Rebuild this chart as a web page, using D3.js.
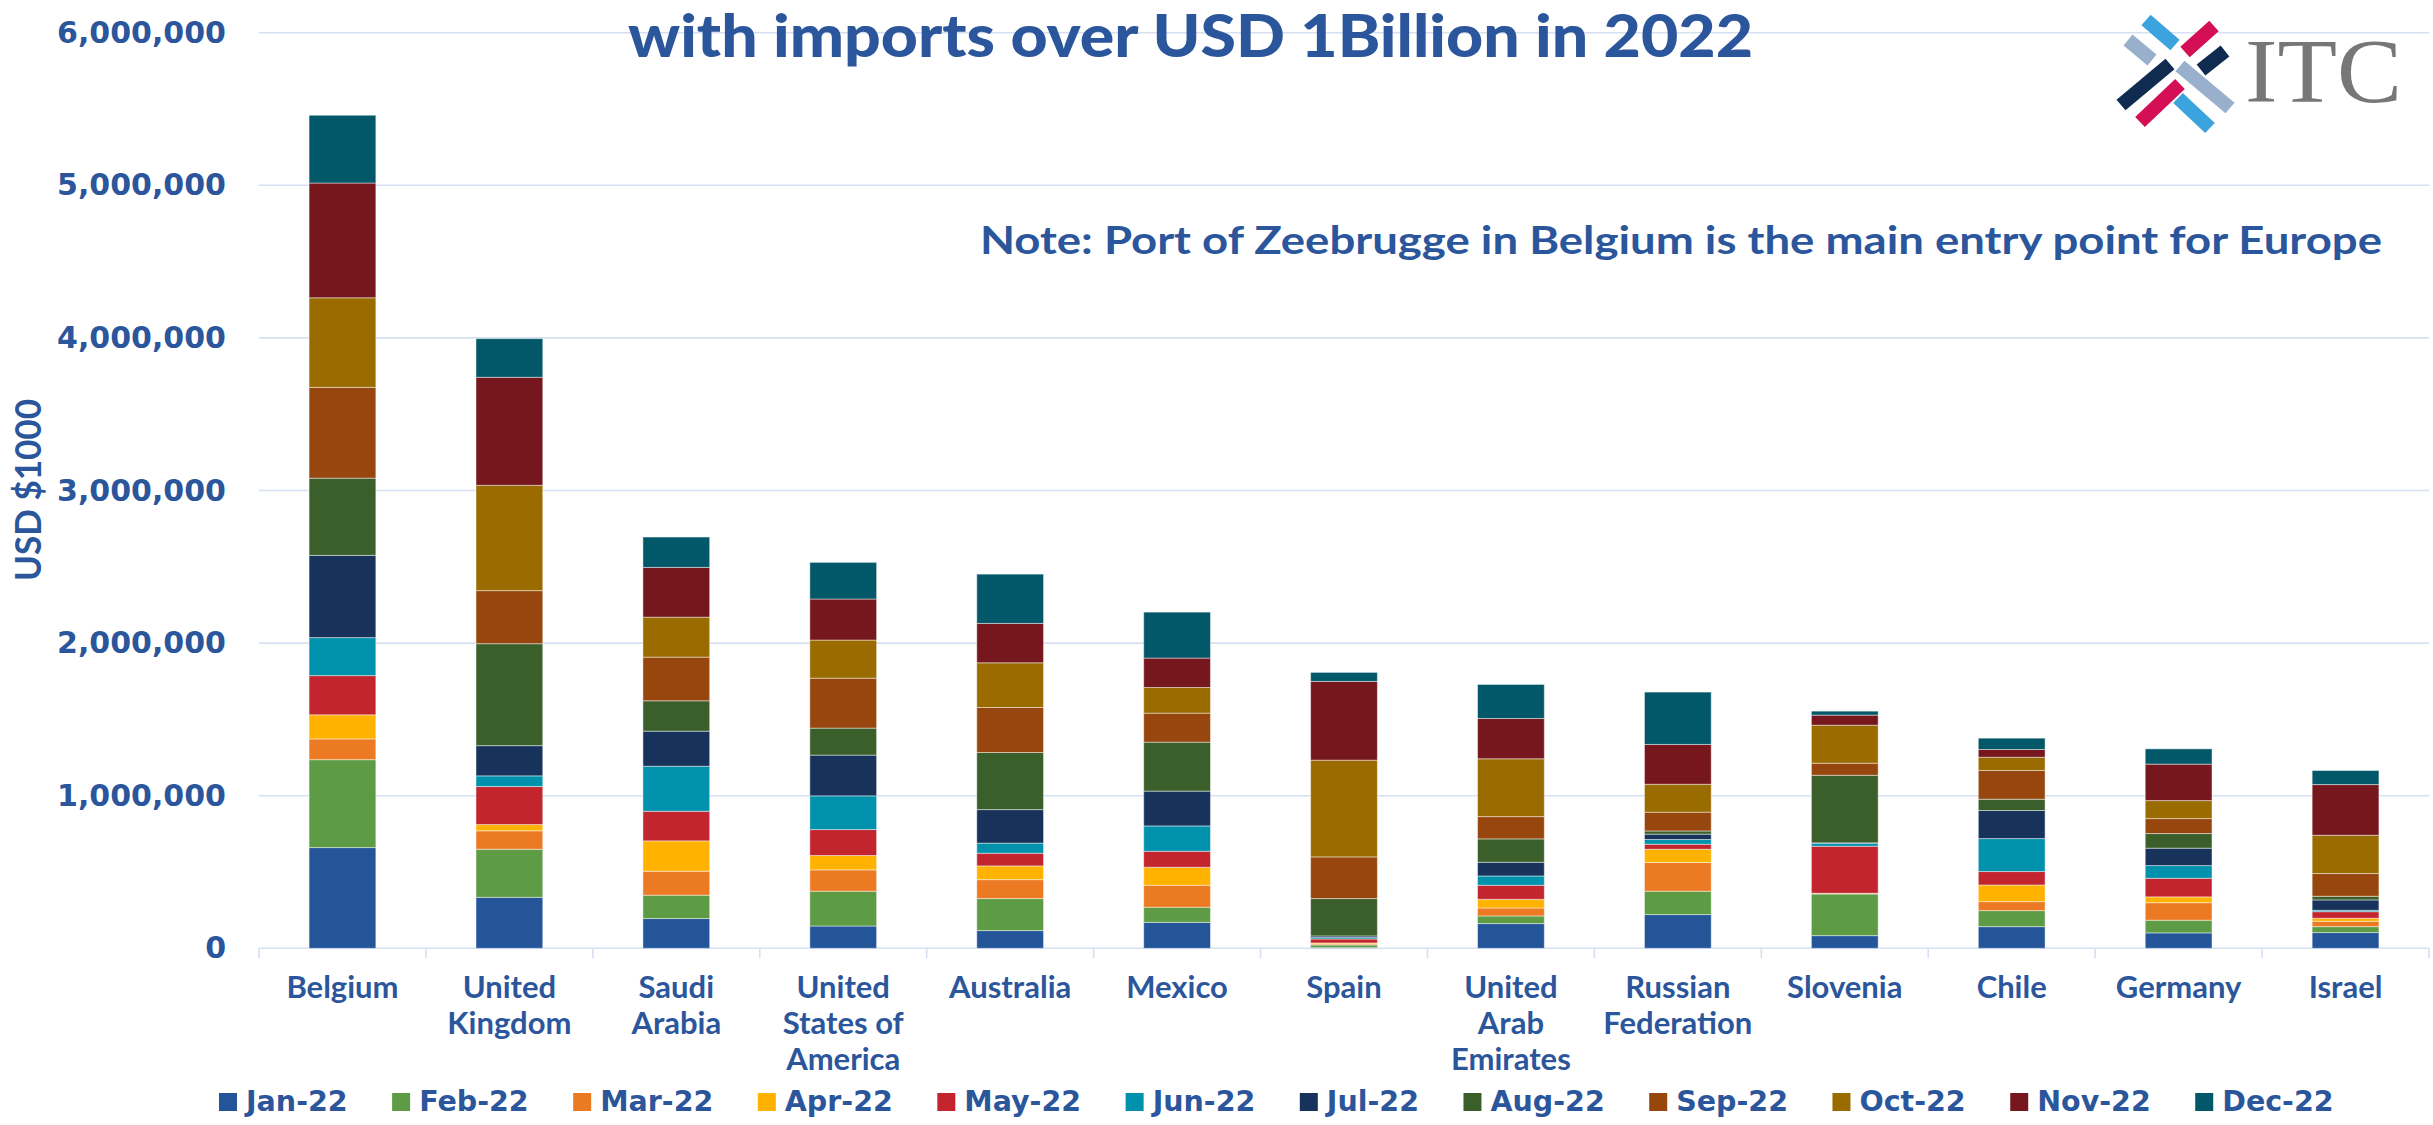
<!DOCTYPE html>
<html>
<head>
<meta charset="utf-8">
<script src="https://cdn.jsdelivr.net/npm/d3@7"></script>
<style>
  html, body { margin: 0; padding: 0; background: #ffffff; }
  svg { display: block; }
</style>
</head>
<body>
<svg id="chart" width="2433" height="1125"></svg>
<script>
// ---------- DATA (USD thousand) ----------
const categories = ["Belgium", "United Kingdom", "Saudi Arabia", "United States of America",
  "Australia", "Mexico", "Spain", "United Arab Emirates", "Russian Federation",
  "Slovenia", "Chile", "Germany", "Israel"];
const months = ["Jan-22", "Feb-22", "Mar-22", "Apr-22", "May-22", "Jun-22",
  "Jul-22", "Aug-22", "Sep-22", "Oct-22", "Nov-22", "Dec-22"];

const jan22 = [660000, 334000, 195000, 146000, 116000, 170000, 4000, 162000, 221000, 83000, 142000, 101000, 103000];
const feb22 = [576000, 315000, 153000, 228000, 210000, 99000, 18000, 50000, 153000, 273000, 105000, 83000, 39000];
const mar22 = [136000, 121000, 157000, 140000, 124000, 144000, 7000, 52000, 188000, 2000, 59000, 115000, 35000];
const apr22 = [158000, 41000, 199000, 94000, 90000, 118000, 6000, 57000, 87000, 3000, 109000, 38000, 20000];
const may22 = [257000, 249000, 194000, 170000, 83000, 105000, 26000, 92000, 33000, 308000, 88000, 122000, 43000];
const jun22 = [249000, 70000, 295000, 221000, 66000, 166000, 9000, 61000, 31000, 20000, 216000, 83000, 9000];
const jul22 = [539000, 198000, 230000, 267000, 220000, 228000, 11000, 90000, 35000, 2000, 184000, 114000, 68000];
const aug22 = [506000, 668000, 199000, 177000, 374000, 321000, 245000, 153000, 21000, 443000, 74000, 96000, 24000];
const sep22 = [595000, 348000, 286000, 327000, 295000, 190000, 273000, 146000, 123000, 79000, 188000, 98000, 149000];
const oct22 = [587000, 690000, 262000, 250000, 293000, 168000, 634000, 379000, 183000, 249000, 87000, 118000, 251000];
const nov22 = [752000, 708000, 326000, 269000, 258000, 193000, 516000, 264000, 261000, 66000, 51000, 239000, 332000];
const dec22 = [444000, 253000, 199000, 240000, 323000, 301000, 59000, 223000, 343000, 26000, 74000, 100000, 92000];

const yTicks = [0, 1000000, 2000000, 3000000, 4000000, 5000000, 6000000];

const titleText = "with imports over USD 1Billion in 2022";
const noteText = "Note: Port of Zeebrugge in Belgium is the main entry point for Europe";
const yAxisTitle = "USD $1000";

// ---------- STYLE ----------
const colors = ["#245599", "#5e9b45", "#ec7a23", "#ffb300", "#c3252f", "#0092ac",
  "#17335c", "#3a5f2a", "#97460d", "#9a6c00", "#76171e", "#025868"];
const textBlue = "#2b569b";
const gridColor = "#d6e0f3";

(function () {
const seriesValues = [jan22, feb22, mar22, apr22, may22, jun22, jul22, aug22, sep22, oct22, nov22, dec22];
const table = categories.map((c, i) => {
  const row = { country: c };
  months.forEach((m, k) => { row[m] = seriesValues[k][i]; });
  return row;
});
const stacked = d3.stack().keys(months)(table);

const svg = d3.select("#chart");
const pLeft = 259, pRight = 2429, pBottom = 948.3, pTop = 32.7;

const x = d3.scaleBand().domain(categories).range([pLeft, pRight])
  .paddingInner(0.6).paddingOuter(0.3);
const y = d3.scaleLinear().domain([0, 6000000]).range([pBottom, pTop]);
const step = x.step();

// gridlines
svg.append("g").selectAll("line").data(yTicks).join("line")
  .attr("x1", pLeft).attr("x2", pRight)
  .attr("y1", d => y(d)).attr("y2", d => y(d))
  .attr("stroke", gridColor).attr("stroke-width", 1.6);

// category boundary ticks
const bounds = categories.map(c => x(c) - step * 0.3).concat([pRight]);
svg.append("g").selectAll("line").data(bounds).join("line")
  .attr("x1", d => d).attr("x2", d => d)
  .attr("y1", pBottom).attr("y2", pBottom + 10)
  .attr("stroke", gridColor).attr("stroke-width", 1.6);

// y axis labels
const yAxis = d3.axisLeft(y).tickValues(yTicks).tickFormat(d3.format(",")).tickSize(0).tickPadding(33);
const yg = svg.append("g").attr("transform", `translate(${pLeft},0)`).call(yAxis);
yg.select(".domain").remove();
yg.selectAll("text")
  .attr("fill", textBlue)
  .style("font-family", "'DejaVu Sans', sans-serif")
  .style("font-weight", "bold")
  .style("font-size", "30px");

// bars
svg.append("g").selectAll("g").data(stacked).join("g")
  .attr("fill", (d, i) => colors[i])
  .selectAll("rect").data(d => d).join("rect")
  .attr("x", d => x(d.data.country))
  .attr("width", x.bandwidth())
  .attr("y", d => y(d[1]))
  .attr("height", d => Math.max(0, y(d[0]) - y(d[1])))
  .attr("stroke", "rgba(255,255,255,0.45)")
  .attr("stroke-width", 1);

// x labels with wrapping
const xLabelG = svg.append("g")
  .style("font-family", "Lato, 'Open Sans', sans-serif")
  .style("font-weight", "bold")
  .style("font-size", "31px")
  .attr("fill", textBlue);
const maxW = 156;
categories.forEach(c => {
  const cx = x(c) + x.bandwidth() / 2;
  const t = xLabelG.append("text").attr("text-anchor", "middle");
  const words = c.split(" ");
  const lines = [];
  let cur = [];
  const probe = xLabelG.append("text");
  words.forEach(w => {
    const test = cur.concat([w]).join(" ");
    probe.text(test);
    if (cur.length && probe.node().getComputedTextLength() > maxW) {
      lines.push(cur.join(" "));
      cur = [w];
    } else {
      cur.push(w);
    }
  });
  lines.push(cur.join(" "));
  probe.remove();
  lines.forEach((ln, i) => {
    t.append("tspan").attr("x", cx).attr("y", 998 + i * 36).text(ln);
  });
});

// y axis title
svg.append("text")
  .attr("transform", "translate(41,490) rotate(-90)")
  .attr("text-anchor", "middle")
  .attr("fill", textBlue)
  .style("font-family", "Lato, sans-serif")
  .style("font-weight", "bold")
  .style("font-size", "36px")
  .attr("textLength", 182)
  .attr("lengthAdjust", "spacingAndGlyphs")
  .text(yAxisTitle);

// title (second line visible)
svg.append("text")
  .attr("x", 628).attr("y", 57)
  .attr("fill", textBlue)
  .style("font-family", "Lato, sans-serif")
  .style("font-weight", "900")
  .style("font-size", "59px")
  .attr("textLength", 1125)
  .attr("lengthAdjust", "spacingAndGlyphs")
  .text(titleText);

// note
svg.append("text")
  .attr("x", 980).attr("y", 254)
  .attr("fill", textBlue)
  .style("font-family", "Lato, sans-serif")
  .style("font-weight", "bold")
  .style("font-size", "39px")
  .attr("textLength", 1402)
  .attr("lengthAdjust", "spacingAndGlyphs")
  .text(noteText);

// legend
const legend = svg.append("g")
  .style("font-family", "'DejaVu Sans', sans-serif")
  .style("font-weight", "bold")
  .style("font-size", "28.5px");
let lx = 219;
months.forEach((m, i) => {
  legend.append("rect").attr("x", lx).attr("y", 1093).attr("width", 18).attr("height", 18)
    .attr("fill", colors[i]);
  const t = legend.append("text").attr("x", lx + 27).attr("y", 1111).attr("fill", textBlue).text(m);
  lx += 27 + t.node().getComputedTextLength() + 44.5;
});

// ITC logo
const logo = svg.append("g");
const pieces = [
  [2146, 20, 2175, 45, "#3ba3dd"],
  [2128, 40, 2152, 60, "#98b0cc"],
  [2185, 52, 2214, 26, "#d40f55"],
  [2201, 70, 2225, 51, "#0f2b50"],
  [2121, 105, 2170, 64, "#0f2b50"],
  [2180, 66, 2230, 108, "#98b0cc"],
  [2140, 122, 2180, 84, "#d40f55"],
  [2178, 98, 2210, 128, "#3ba3dd"]
];
logo.selectAll("line").data(pieces).join("line")
  .attr("x1", d => d[0]).attr("y1", d => d[1])
  .attr("x2", d => d[2]).attr("y2", d => d[3])
  .attr("stroke", d => d[4]).attr("stroke-width", 14);
logo.append("text")
  .attr("x", 2245).attr("y", 102)
  .attr("fill", "#777777")
  .style("font-family", "'Liberation Serif', serif")
  .style("font-size", "90px")
  .attr("textLength", 157)
  .attr("lengthAdjust", "spacingAndGlyphs")
  .text("ITC");
})();
</script>
</body>
</html>
